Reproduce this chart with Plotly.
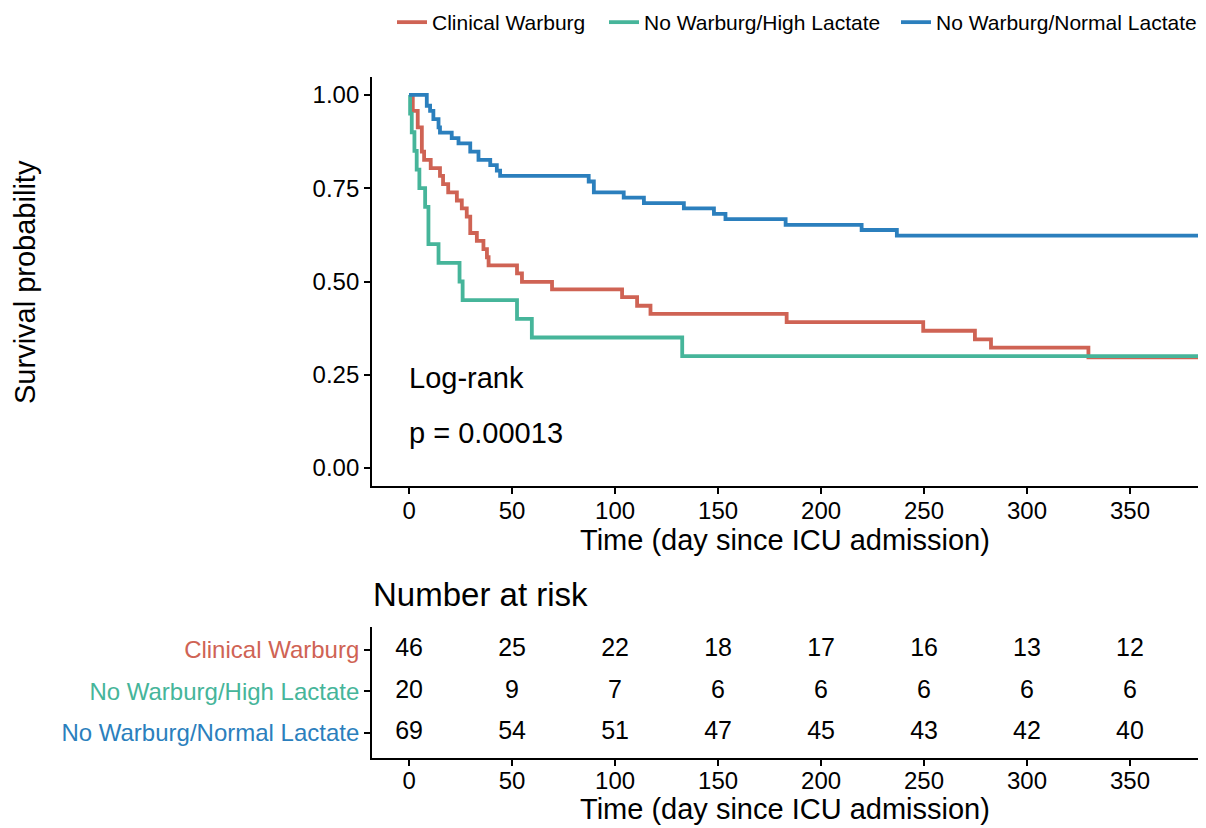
import plotly.graph_objects as go

# ---------------- data ----------------
groups = ["Clinical Warburg", "No Warburg/High Lactate", "No Warburg/Normal Lactate"]
colors = ["#CF6354", "#46B59A", "#2B7FBD"]

cw_time = [0, 1.8, 4.2, 6.2, 7.3, 10.5, 15, 16.5, 19, 23.2, 25.6, 28, 29.7, 32.9, 36.1,
           37.8, 38.6, 52.4, 54.8, 69.4, 103.4, 110.7, 117.2, 183.3, 249.6, 274.7, 282.5,
           329.8, 383]
cw_surv = [1.0, 0.957, 0.913, 0.848, 0.826, 0.804, 0.783, 0.761, 0.739, 0.717, 0.696, 0.674,
           0.630, 0.609, 0.587, 0.565, 0.543, 0.522, 0.499, 0.479, 0.458, 0.435, 0.413, 0.391,
           0.368, 0.345, 0.323, 0.297, 0.297]

hl_time = [0, 0.5, 1.3, 2.6, 3.7, 5, 7.8, 9.4, 14.3, 24.5, 26, 52.4, 59.6, 132.6, 383]
hl_surv = [1.0, 0.95, 0.90, 0.85, 0.80, 0.75, 0.70, 0.60, 0.55, 0.50, 0.45, 0.40, 0.35, 0.30, 0.30]

nl_time = [0, 8.6, 10.2, 11.8, 14.3, 15, 20.7, 24, 29.7, 33.7, 39.4, 42.6, 44.2, 87.2, 89.7,
           104.2, 114, 133.4, 148, 153.6, 182.8, 219.7, 236.8, 383]
nl_surv = [1.0, 0.971, 0.957, 0.935, 0.913, 0.899, 0.884, 0.870, 0.848, 0.826, 0.812, 0.797,
           0.783, 0.768, 0.739, 0.725, 0.710, 0.696, 0.681, 0.667, 0.652, 0.638, 0.623, 0.623]

risk_times = [0, 50, 100, 150, 200, 250, 300, 350]
risk_cw = [46, 25, 22, 18, 17, 16, 13, 12]
risk_hl = [20, 9, 7, 6, 6, 6, 6, 6]
risk_nl = [69, 54, 51, 47, 45, 43, 42, 40]

x_ticks = [0, 50, 100, 150, 200, 250, 300, 350]
y_ticks = [0, 0.25, 0.5, 0.75, 1.0]

# ---------------- figure ----------------
W, H = 1206, 828
FONT = "Liberation Sans, Arial, Helvetica, sans-serif"


def px(x):
    return x / W


def py(y):
    return 1 - y / H


fig = go.Figure()

legend_ids = ["legend", "legend2", "legend3"]
curves = [(cw_time, cw_surv), (hl_time, hl_surv), (nl_time, nl_surv)]
for name, col, (t, s), lg in zip(groups, colors, curves, legend_ids):
    fig.add_trace(go.Scatter(x=t, y=s, mode="lines", line=dict(color=col, width=3.8, shape="hv"),
                             name=name, xaxis="x", yaxis="y", showlegend=True, legend=lg))

risks = [risk_cw, risk_hl, risk_nl]
rows = [3, 2, 1]
for r, row in zip(risks, rows):
    fig.add_trace(go.Scatter(x=risk_times, y=[row] * len(risk_times), mode="text",
                             text=[str(v) for v in r],
                             textfont=dict(family=FONT, size=25, color="black"),
                             textposition="middle center",
                             xaxis="x2", yaxis="y2", showlegend=False, hoverinfo="skip"))

axis_common = dict(showline=True, linecolor="black", linewidth=1.8, ticks="outside",
                   ticklen=6, tickwidth=1.6, tickcolor="black", showgrid=False, zeroline=False,
                   tickfont=dict(family=FONT, size=24, color="black"))

x_dom = [px(372), px(1198)]

text_starts = [432, 644, 936]
legends = {}
for lg, ts in zip(legend_ids, text_starts):
    legends[lg] = dict(orientation="h", x=px(ts - 40), xanchor="left", y=py(2), yanchor="top",
                       font=dict(family=FONT, size=21, color="black"),
                       bgcolor="rgba(0,0,0,0)", itemwidth=30)

fig.update_layout(
    width=W, height=H,
    margin=dict(l=0, r=0, t=0, b=0),
    paper_bgcolor="white", plot_bgcolor="white",
    font=dict(family=FONT, color="black"),
    xaxis=dict(domain=x_dom, range=[-18, 383], tickvals=x_ticks, anchor="y",
               ticklabelstandoff=-4, **axis_common),
    yaxis=dict(domain=[py(486), py(77)], range=[-0.048, 1.048], tickvals=y_ticks,
               tickformat=".2f", anchor="x", **axis_common),
    xaxis2=dict(domain=x_dom, range=[-18, 383], tickvals=x_ticks, anchor="y2",
                ticklabelstandoff=-6, **axis_common),
    yaxis2=dict(domain=[py(758), py(627)], range=[0.4, 3.55], tickvals=rows,
                ticktext=[f'<span style="color:{c}">{g}</span>' for g, c in zip(groups, colors)],
                anchor="x2", **axis_common),
    **legends,
)

ann = [
    dict(text="Survival probability", x=px(25), y=py(282), textangle=-90, size=29),
    dict(text="Time (day since ICU admission)", x=px(785), y=py(540), size=29),
    dict(text="Time (day since ICU admission)", x=px(785), y=py(809), size=29),
]
for a in ann:
    fig.add_annotation(text=a["text"], x=a["x"], y=a["y"], xref="paper", yref="paper",
                       showarrow=False, textangle=a.get("textangle", 0),
                       xanchor="center", yanchor="middle",
                       font=dict(family=FONT, size=a["size"], color="black"))

fig.add_annotation(text="Number at risk", x=px(371), y=py(594), xref="paper", yref="paper",
                   showarrow=False, xanchor="left", yanchor="middle",
                   font=dict(family=FONT, size=33, color="black"))
fig.add_annotation(text="Log-rank", x=px(407), y=py(378), xref="paper", yref="paper",
                   showarrow=False, xanchor="left", yanchor="middle",
                   font=dict(family=FONT, size=29, color="black"))
fig.add_annotation(text="p = 0.00013", x=px(407), y=py(433), xref="paper", yref="paper",
                   showarrow=False, xanchor="left", yanchor="middle",
                   font=dict(family=FONT, size=29, color="black"))

fig.write_html("out.html", config={"displayModeBar": False},
               post_script="document.body.style.margin='0px';document.body.style.overflow='hidden';")
